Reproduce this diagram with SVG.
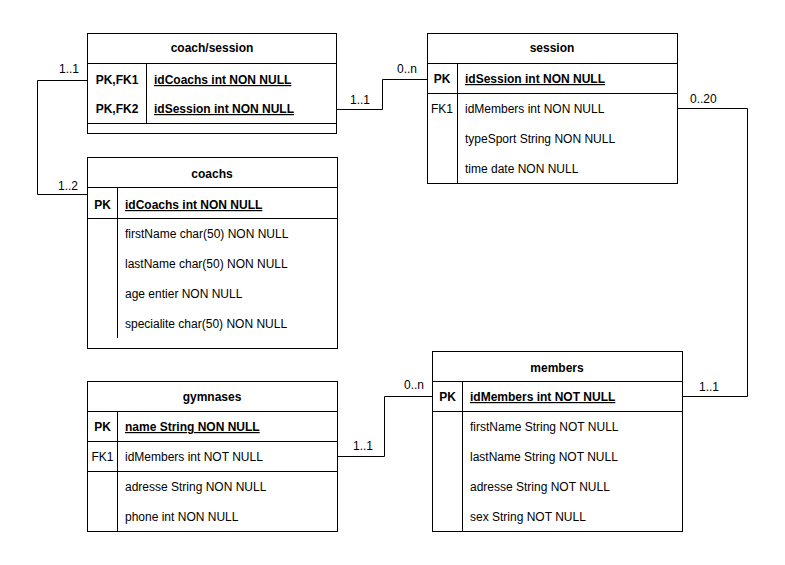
<svg xmlns="http://www.w3.org/2000/svg" width="785" height="565" viewBox="0 0 785 565">
<style>
text{font-family:"Liberation Sans",Arial,sans-serif;font-size:12px;fill:#000}
.t{font-weight:bold;text-anchor:middle}
.k{font-weight:bold;text-anchor:middle}
.f{text-anchor:middle}
.u{font-weight:bold;text-decoration:underline}
.box{fill:#fff;stroke:#000;stroke-width:1}
.ln{fill:none;stroke:#000;stroke-width:1}
</style>
<rect width="785" height="565" fill="#fff"/>
<g id="connectors">
<path class="ln" d="M87.5 80.5H37.5V194.5H87.5"/>
<path class="ln" d="M336.5 109.5H382.5V79.5H427.5"/>
<path class="ln" d="M677.5 108.5H747.5V396.5H682.5"/>
<path class="ln" d="M337.5 456.5H384.5V396.5H432.5"/>
<text x="79" y="73" text-anchor="end">1..1</text>
<text x="78" y="190" text-anchor="end">1..2</text>
<text x="350" y="104">1..1</text>
<text x="397" y="73">0..n</text>
<text x="690" y="103">0..20</text>
<text x="699" y="391">1..1</text>
<text x="353" y="450">1..1</text>
<text x="404" y="389">0..n</text>
</g>
<g id="coach_session">
<rect class="box" x="87.5" y="33.5" width="249" height="100"/>
<path class="ln" d="M87.5 63.5H336.5M87.5 123.5H336.5M146.5 63.5V123.5"/>
<text class="t" x="212" y="52">coach/session</text>
<text class="k" x="117" y="84">PK,FK1</text>
<text class="k" x="117" y="113">PK,FK2</text>
<text class="u" x="154" y="84">idCoachs int NON NULL</text>
<text class="u" x="154" y="113">idSession int NON NULL</text>
</g>
<g id="session">
<rect class="box" x="427.5" y="33.5" width="250" height="150"/>
<path class="ln" d="M427.5 63.5H677.5M427.5 93.5H677.5M457.5 63.5V183.5"/>
<text class="t" x="552" y="52">session</text>
<text class="k" x="442" y="83">PK</text>
<text class="f" x="442" y="113">FK1</text>
<text class="u" x="465" y="83">idSession int NON NULL</text>
<text x="465" y="113">idMembers int NON NULL</text>
<text x="465" y="143">typeSport String NON NULL</text>
<text x="465" y="173">time date NON NULL</text>
</g>
<g id="coachs">
<rect class="box" x="87.5" y="157.5" width="250" height="191"/>
<path class="ln" d="M87.5 187.5H337.5M87.5 218.5H337.5M117.5 187.5V338"/>
<text class="t" x="212" y="178">coachs</text>
<text class="k" x="102.5" y="209">PK</text>
<text class="u" x="125" y="209">idCoachs int NON NULL</text>
<text x="125" y="238">firstName char(50) NON NULL</text>
<text x="125" y="268">lastName char(50) NON NULL</text>
<text x="125" y="298">age entier NON NULL</text>
<text x="125" y="328">specialite char(50) NON NULL</text>
</g>
<g id="gymnases">
<rect class="box" x="87.5" y="381.5" width="250" height="150"/>
<path class="ln" d="M87.5 411.5H337.5M87.5 441.5H337.5M87.5 471.5H337.5M117.5 411.5V531.5"/>
<text class="t" x="212" y="401">gymnases</text>
<text class="k" x="102.5" y="431">PK</text>
<text class="f" x="102.5" y="461">FK1</text>
<text class="u" x="125" y="431">name String NON NULL</text>
<text x="125" y="461">idMembers int NOT NULL</text>
<text x="125" y="491">adresse String NON NULL</text>
<text x="125" y="521">phone int NON NULL</text>
</g>
<g id="members">
<rect class="box" x="432.5" y="351.5" width="250" height="180"/>
<path class="ln" d="M432.5 381.5H682.5M432.5 411.5H682.5M462.5 381.5V531.5"/>
<text class="t" x="557" y="372">members</text>
<text class="k" x="447.5" y="401">PK</text>
<text class="u" x="470" y="401">idMembers int NOT NULL</text>
<text x="470" y="431">firstName String NOT NULL</text>
<text x="470" y="461">lastName String NOT NULL</text>
<text x="470" y="491">adresse String NOT NULL</text>
<text x="470" y="521">sex String NOT NULL</text>
</g>
</svg>
